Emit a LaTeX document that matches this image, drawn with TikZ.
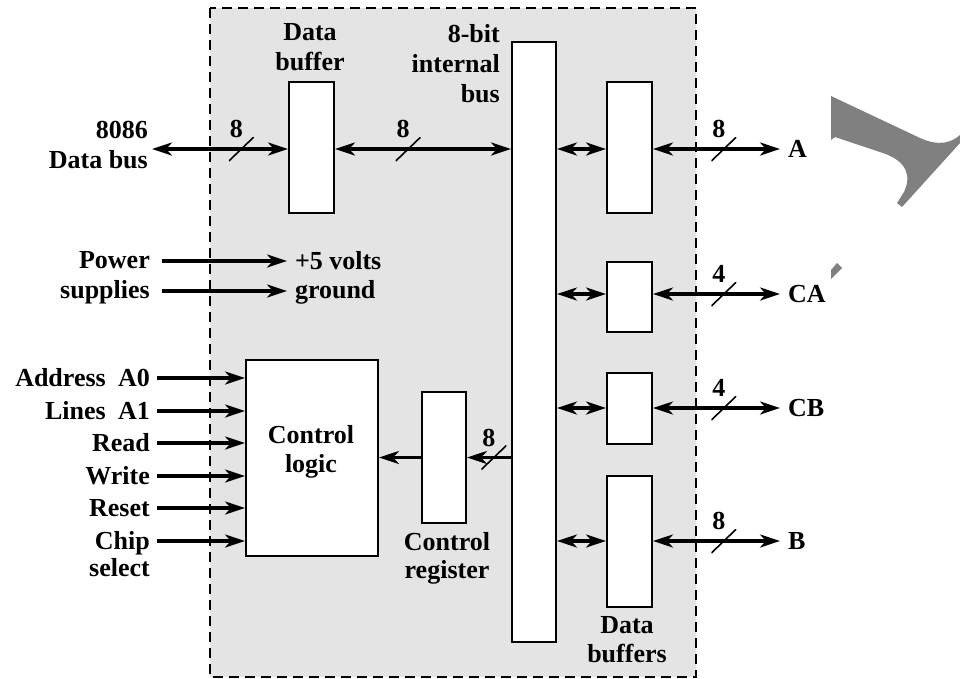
\documentclass[tikz,border=0pt]{standalone}
\usepackage{fontspec}
\setmainfont{Liberation Serif}
\usetikzlibrary{arrows.meta, calc}
\definecolor{chipgray}{HTML}{E4E4E4}
\definecolor{markgray}{HTML}{808080}

\begin{document}
\begin{tikzpicture}[
  x=1pt, y=-1pt,
  every node/.style={font=\fontsize{26}{30}\selectfont\bfseries, inner sep=0pt},
  regbox/.style={rectangle, draw=black, line width=2pt, fill=white, minimum width=45pt},
  sigtext/.style={anchor=base east},
  railtext/.style={anchor=base west, outer xsep=8pt},
  porttext/.style={anchor=west, outer xsep=8pt},
  sigarrow/.style={-{Stealth[length=20pt, width=13pt, inset=6pt]}, line width=3.2pt},
  biarrow/.style={{Stealth[length=20pt, width=13pt, inset=6pt]}-{Stealth[length=20pt, width=13pt, inset=6pt]}, line width=3.2pt},
  buswidth/.style={minimum width=25pt, minimum height=24pt,
    path picture={\draw[-, line width=1.6pt] (path picture bounding box.south west) -- (path picture bounding box.north east);},
    label={[label distance=-4pt, xshift=-5pt]above:#1}},
]
\useasboundingbox (0,0) rectangle (960,678);

% Chip outline
\draw[fill=chipgray, line width=1.8pt, dash pattern=on 10pt off 6pt] (210,8) rectangle (696,677);

% Stray grey mark at the right edge
\fill[markgray] (831,96) -- (920,138) .. controls (940,147) and (952,142) .. (960,135) -- (960,143) -- (902,207) -- (897,203)
  -- (904,192) .. controls (912,175) and (906,161) .. (883,153) -- (835,137) -- (831,140) -- cycle;
\fill[markgray] (831,270) -- (837,263) -- (842,268) -- (831,279) -- cycle;

% Registers and buffers
\node[regbox, minimum height=131pt] (dbuf) at (311.5,147.5) {};
\node[regbox, minimum width=44pt, minimum height=600pt] (bus) at (534,342) {};
\node[regbox, minimum height=131pt] (bufA) at (629.5,147.5) {};
\node[regbox, minimum height=70pt] (bufCA) at (629.5,297) {};
\node[regbox, minimum height=71pt] (bufCB) at (629.5,408.5) {};
\node[regbox, minimum height=131pt] (bufB) at (629.5,541.5) {};
\node[regbox, minimum width=132pt, minimum height=196pt] (logic) at (312,458) {};
\node[regbox, minimum width=44pt, minimum height=131pt] (creg) at (444,457.5) {};

% Labels of the blocks
\node[anchor=base] (dbufA) at (310,40) {Data};
\node[anchor=base] (dbufB) at (310,70) {buffer};
\node[anchor=base east] (busA) at (500,42) {8-bit};
\node[anchor=base east] (busB) at (500,72) {internal};
\node[anchor=base east] (busC) at (500,102) {bus};
\node[anchor=base] (logA) at (311,443) {Control};
\node[anchor=base] (logB) at (311,472) {logic};
\node[anchor=base] (cregA) at (447,550) {Control};
\node[anchor=base] (cregB) at (447,578) {register};
\node[anchor=base] (dbA) at (627,633) {Data};
\node[anchor=base] (dbB) at (627,662) {buffers};

% 8086 data bus
\node[sigtext] (d8086) at (148,138) {8086};
\node[sigtext] (dbus) at (148,168) {Data bus};
\coordinate (db-in) at (152,149);
\draw[biarrow] (db-in) -- (dbuf.west |- db-in) node[pos=0.657, buswidth=8] {};
\draw[biarrow] (dbuf.east |- db-in) -- (bus.west |- db-in) node[pos=0.416, buswidth=8] {};

% Power supplies
\node[sigtext] (power) at (150,268) {Power};
\node[sigtext] (supplies) at (150,298) {supplies};
\node[railtext] (volts) at (287,269) {+5 volts};
\node[railtext] (ground) at (287,298) {ground};
\coordinate (pwr-in) at (162,261);
\coordinate (gnd-in) at (162,291);
\draw[sigarrow] (pwr-in) -- (pwr-in -| volts.west);
\draw[sigarrow] (gnd-in) -- (gnd-in -| ground.west);

% Control inputs
\node[sigtext] (addr) at (106,386) {Address};
\node[sigtext] (lines) at (106,419) {Lines};
\foreach \y/\nm/\txt in {378/a0/A0, 411/a1/A1, 443/rd/Read, 476/wr/Write, 508/rst/Reset, 541/cs/Chip}{
  \node[sigtext] (\nm) at (150,\y+8) {\txt};
  \coordinate (\nm-in) at (157,\y);
  \draw[sigarrow] (\nm-in) -- (logic.west |- \nm-in);
}
\node[sigtext] (select) at (150,576) {select};

% Control register path
\draw[sigarrow] (bus.west |- creg) -- (creg.east) node[pos=0.39, buswidth=8] {};
\draw[sigarrow] (creg.west) -- (logic.east |- creg);

% Ports
\node[porttext] (A) at (780,149) {A};
\node[porttext] (CA) at (780,294) {CA};
\node[porttext] (CB) at (780,408) {CB};
\node[porttext] (B) at (780,541) {B};
\draw[biarrow] (bus.east |- A) -- (bufA.west |- A);
\draw[biarrow] (bufA.east |- A) -- (A.west) node[pos=0.558, buswidth=8] {};
\draw[biarrow] (bus.east |- CA) -- (bufCA.west |- CA);
\draw[biarrow] (bufCA.east |- CA) -- (CA.west) node[pos=0.558, buswidth=4] {};
\draw[biarrow] (bus.east |- CB) -- (bufCB.west |- CB);
\draw[biarrow] (bufCB.east |- CB) -- (CB.west) node[pos=0.558, buswidth=4] {};
\draw[biarrow] (bus.east |- B) -- (bufB.west |- B);
\draw[biarrow] (bufB.east |- B) -- (B.west) node[pos=0.558, buswidth=8] {};

\end{tikzpicture}
\end{document}
